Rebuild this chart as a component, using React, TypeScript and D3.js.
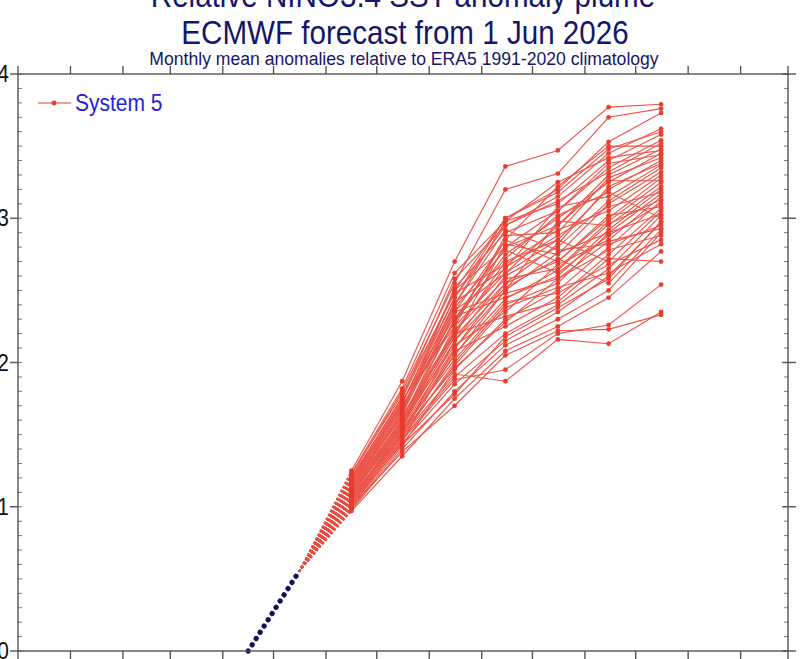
import React from "react";
import * as d3 from "d3";

const W = 800;
const H = 659;

const titleLines = ["Relative NINO3.4 SST anomaly plume", "ECMWF forecast from 1 Jun 2026"];
const subtitle = "Monthly mean anomalies relative to ERA5 1991-2020 climatology";
const legendLabel = "System 5";

const yTicks = [0, 1, 2, 3, 4];

// observations (mid-month)
const obsDates = ["2026-04-16", "2026-05-16"];
const obsValues = [0.0, 0.55];

// forecast months (mid-month)
const fcDates = ["2026-06-16", "2026-07-16", "2026-08-16", "2026-09-15", "2026-10-16", "2026-11-15", "2026-12-16"];

// ensemble members: Jun..Dec
const members: number[][] = [
  [1.25, 1.87, 2.70, 3.36, 3.47, 3.77, 3.79],
  [1.22, 1.80, 2.55, 3.20, 3.31, 3.70, 3.76],
  [1.20, 1.75, 2.50, 3.00, 3.20, 3.53, 3.73],
  [1.18, 1.72, 2.45, 2.95, 3.15, 3.45, 3.62],
  [1.15, 1.68, 2.40, 2.98, 3.10, 3.40, 3.58],
  [1.12, 1.65, 2.52, 2.90, 3.05, 3.35, 3.54],
  [1.10, 1.60, 2.35, 2.85, 3.22, 3.50, 3.50],
  [1.08, 1.58, 2.30, 2.80, 2.95, 3.30, 3.48],
  [1.20, 1.70, 2.28, 2.75, 3.00, 3.25, 3.45],
  [1.05, 1.55, 2.25, 2.88, 2.90, 3.28, 3.42],
  [1.17, 1.62, 2.20, 2.70, 2.85, 3.20, 3.40],
  [1.13, 1.66, 2.42, 2.65, 3.08, 3.15, 3.37],
  [1.02, 1.50, 2.15, 2.60, 2.80, 3.12, 3.35],
  [1.09, 1.57, 2.18, 2.82, 2.75, 3.10, 3.32],
  [1.23, 1.78, 2.48, 2.68, 2.92, 3.05, 3.30],
  [1.00, 1.45, 2.10, 2.55, 2.70, 3.00, 3.28],
  [1.14, 1.63, 2.22, 2.58, 2.65, 2.98, 3.25],
  [1.07, 1.52, 2.05, 2.50, 2.98, 2.95, 3.22],
  [1.19, 1.69, 2.32, 2.45, 2.60, 2.92, 3.20],
  [1.04, 1.48, 2.00, 2.40, 2.55, 2.90, 3.17],
  [1.11, 1.59, 2.12, 2.35, 2.68, 2.85, 3.15],
  [0.99, 1.42, 1.95, 2.30, 2.50, 2.80, 3.12],
  [1.16, 1.64, 2.38, 2.78, 2.62, 2.88, 3.10],
  [1.06, 1.53, 2.08, 2.25, 2.45, 2.75, 3.07],
  [1.21, 1.74, 2.25, 2.62, 2.85, 2.70, 3.05],
  [1.03, 1.47, 1.90, 2.20, 2.40, 2.65, 3.02],
  [1.13, 1.61, 2.30, 2.72, 3.02, 3.18, 3.00],
  [1.01, 1.44, 1.85, 2.15, 2.35, 2.60, 2.97],
  [1.18, 1.67, 2.40, 2.92, 2.78, 2.82, 2.95],
  [1.08, 1.56, 2.15, 2.52, 2.72, 2.55, 2.92],
  [0.98, 1.40, 1.80, 2.12, 2.30, 2.50, 2.90],
  [1.15, 1.65, 2.35, 2.48, 2.58, 2.78, 2.88],
  [1.10, 1.54, 2.02, 2.42, 2.48, 2.68, 2.85],
  [1.05, 1.50, 1.98, 2.38, 2.52, 2.62, 2.82],
  [1.20, 1.76, 2.58, 2.95, 3.12, 3.32, 3.52],
  [0.97, 1.35, 1.75, 2.08, 2.25, 2.45, 2.77],
  [1.12, 1.60, 2.20, 2.32, 2.42, 2.72, 2.70],
  [1.02, 1.46, 1.88, 1.95, 2.20, 2.26, 2.54],
  [1.07, 1.49, 1.92, 1.87, 2.16, 2.13, 2.35],
  [1.00, 1.38, 1.70, 2.05, 2.22, 2.23, 2.33],
  [1.14, 1.68, 2.45, 3.00, 3.18, 3.48, 3.60],
  [1.09, 1.58, 2.22, 2.66, 2.88, 3.08, 3.18],
  [1.23, 1.82, 2.62, 2.98, 3.25, 3.42, 3.47],
  [1.06, 1.51, 2.06, 2.44, 2.64, 2.96, 3.13],
  [1.17, 1.70, 2.28, 2.85, 2.70, 3.02, 3.08],
  [1.04, 1.52, 1.96, 2.28, 2.58, 2.84, 2.93],
  [1.11, 1.57, 2.18, 2.55, 2.82, 3.22, 3.38],
  [1.16, 1.71, 2.50, 2.80, 3.05, 3.38, 3.44],
  [1.03, 1.43, 1.78, 2.18, 2.38, 2.58, 2.98],
  [1.19, 1.73, 2.36, 2.62, 2.95, 3.26, 3.26],
  [1.08, 1.55, 2.10, 2.50, 2.76, 2.90, 3.03],
];

const parse = (s: string) => new Date(s + "T00:00:00Z");

export default function App() {
  const left = 18, right = 788, top = 74, bottom = 651;
  const x = d3.scaleUtc().domain([parse("2025-12-01"), parse("2027-03-01")]).range([left, right]);
  const y = d3.scaleLinear().domain([0, 4]).range([bottom, top]);

  const monthTicks = d3.utcMonth.range(parse("2025-12-01"), parse("2027-03-02"));
  const minorTicks = d3.range(0, 41).map((i) => i / 10);

  const line = d3
    .line<[Date, number]>()
    .x((d) => x(d[0]))
    .y((d) => y(d[1]));

  const fcD = fcDates.map(parse);
  const obsD = obsDates.map(parse);
  const lastObs: [Date, number] = [obsD[obsD.length - 1], obsValues[obsValues.length - 1]];

  const red = "#e8392c";
  const navy = "#10105e";
  const axisCol = "#555";
  const font = "'Liberation Sans', Arial, Helvetica, sans-serif";
  const sy = 1.13;

  return (
    <svg width={W} height={H} style={{ position: "absolute", left: 0, top: 0, background: "#fff" }}>
      <rect x={0} y={0} width={W} height={H} fill="#fff" />
      {/* titles */}
      <g fill="#16166a" fontFamily={font} textAnchor="middle">
        <text transform={`translate(403,7) scale(1,${sy})`} fontSize={29.6}>{titleLines[0]}</text>
        <text transform={`translate(405,44) scale(1,${sy})`} fontSize={29.6}>{titleLines[1]}</text>
        <text transform={`translate(404,65) scale(1,1.05)`} fontSize={17.6}>{subtitle}</text>
      </g>

      {/* connectors from last obs to first forecast month */}
      <g stroke={red} strokeWidth={1.5} strokeDasharray="2.5,2" fill="none" opacity={0.9}>
        {members.map((m, i) => (
          <path key={i} d={line([lastObs, [fcD[0], m[0]]]) || ""} />
        ))}
      </g>

      {/* ensemble members */}
      <g stroke={red} strokeWidth={1.15} fill="none" opacity={0.85}>
        {members.map((m, i) => (
          <path key={i} d={line(m.map((v, j) => [fcD[j], v] as [Date, number])) || ""} />
        ))}
      </g>
      <g fill={red} opacity={0.95}>
        {members.map((m, i) =>
          m.map((v, j) => <circle key={i + "-" + j} cx={x(fcD[j])} cy={y(v)} r={2.4} />)
        )}
      </g>

      {/* observations */}
      <path
        d={line(obsD.map((d, i) => [d, obsValues[i]] as [Date, number])) || ""}
        stroke={navy}
        strokeWidth={5.2}
        strokeLinecap="round"
        strokeDasharray="0.1,7.3"
        fill="none"
      />

      {/* frame */}
      <g stroke={axisCol} strokeWidth={1.4} fill="none">
        <rect x={left} y={top} width={right - left} height={bottom - top} />
        {monthTicks.map((d, i) => (
          <g key={i}>
            <line x1={x(d)} x2={x(d)} y1={bottom} y2={bottom + 8} />
            <line x1={x(d)} x2={x(d)} y1={top} y2={top - 8} />
          </g>
        ))}
        {yTicks.map((t) => (
          <g key={t}>
            <line x1={left - 8} x2={left} y1={y(t)} y2={y(t)} />
            <line x1={right - 6} x2={right + 8} y1={y(t)} y2={y(t)} />
          </g>
        ))}
      </g>
      <g stroke={axisCol} strokeWidth={0.8}>
        {minorTicks.map((t, i) => (
          <g key={i}>
            <line x1={left} x2={left + 4} y1={y(t)} y2={y(t)} />
            <line x1={right - 4} x2={right} y1={y(t)} y2={y(t)} />
          </g>
        ))}
      </g>
      <g fontFamily={font} fontSize={21} textAnchor="end" fill="#111">
        {yTicks.map((t) => (
          <text key={t} transform={`translate(9,${y(t) + 8}) scale(1,${sy})`}>{t}</text>
        ))}
      </g>

      {/* legend */}
      <g>
        <line x1={38} x2={71} y1={103} y2={103} stroke={red} strokeWidth={1.2} />
        <circle cx={54} cy={103} r={2.4} fill={red} />
        <text transform={`translate(75,111) scale(1,${sy})`} fontFamily={font} fontSize={21} fill="#2323dd">{legendLabel}</text>
      </g>
    </svg>
  );
}
